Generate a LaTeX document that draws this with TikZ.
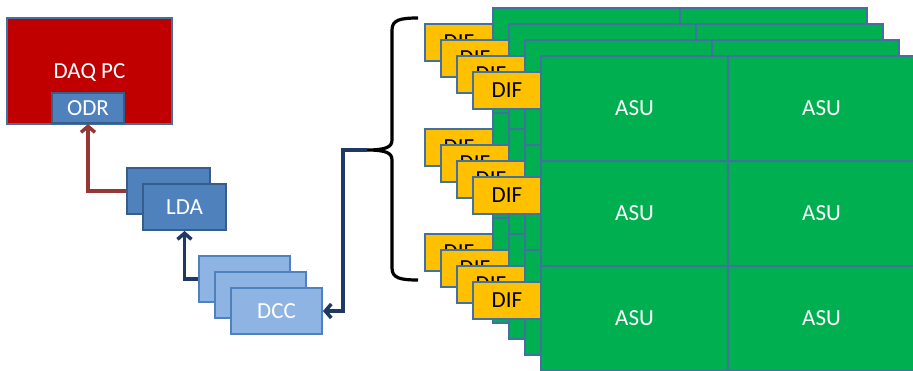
\documentclass[tikz,border=0pt]{standalone}
\usepackage{fontspec}
\setmainfont{Carlito}
\usetikzlibrary{arrows.meta}
\definecolor{daqred}{HTML}{C00000}
\definecolor{edgeblue}{HTML}{41719C}
\definecolor{darkedge}{HTML}{385D8A}
\definecolor{ldablue}{HTML}{4F81BD}
\definecolor{dccblue}{HTML}{8EB4E3}
\definecolor{asugreen}{HTML}{00B050}
\definecolor{difyellow}{HTML}{FFC000}
\definecolor{linkred}{HTML}{953735}
\definecolor{linknavy}{HTML}{1F3864}
\begin{document}
\begin{tikzpicture}[x=1pt,y=-1pt,
  box/.style={rectangle, draw=edgeblue, line width=2pt, inner sep=0pt,
    font=\fontsize{23}{23}\selectfont, text height=14.8pt, text depth=0pt},
  daqbox/.style={box, fill=daqred, text=white, minimum width=165pt, minimum height=106pt},
  odrbox/.style={box, draw=darkedge, fill=ldablue, text=white, minimum width=72pt, minimum height=30pt},
  ldabox/.style={box, draw=darkedge, fill=ldablue, text=white, minimum width=83pt, minimum height=46pt},
  dccbox/.style={box, draw=ldablue, fill=dccblue, text=white, minimum width=91pt, minimum height=46pt},
  cell/.style={box, fill=asugreen, text=white, minimum width=187pt, minimum height=105pt},
  difbox/.style={box, fill=difyellow, text=black, minimum width=68pt, minimum height=37pt},
  link/.style={line width=3.5pt, -{Straight Barb[length=6pt,width=14pt]}},
  bracestyle/.style={line width=3.2pt, black}
]
\useasboundingbox (0,0) rectangle (913,370);
\fill[white] (0,0) rectangle (913,370);

% DAQ PC and ODR
\node[daqbox] (daq) at (89.5,71) {DAQ PC};
\node[odrbox] (odr) at (88,108) {ODR};

% LDA
\node[ldabox] (ldab) at (168,191) {};
\node[ldabox] (lda) at (184.5,207) {LDA};

% DCC
\node[dccbox] (dcc1) at (244.5,279) {};
\node[dccbox] (dcc2) at (260.5,295) {};
\node[dccbox] (dcc3) at (276.5,311) {DCC};

% ASU layers with DIFs
\foreach \k/\lx/\ly in {0/493/8,1/509/24,2/525/40,3/541/56} {
  \foreach \c in {0,1} {
    \foreach \r in {0,1,2} {
      \node[cell] (asu\k-\c-\r) at ({\lx+93.5+187*\c},{\ly+52.5+105*\r}) {\ifnum\k=3 ASU\fi};
    }
  }
  \foreach \r in {0,1,2} {
    \node[difbox] (dif\k-\r) at ({\lx-34},{\ly+34.5+105*\r}) {DIF};
  }
}

% brace
\draw[bracestyle] (418,18) .. controls (400,18) and (392,20) .. (392,30)
  -- (392,140) .. controls (392,147) and (386,150) .. (367,150)
  .. controls (386,150) and (392,153) .. (392,160)
  -- (392,268) .. controls (392,278) and (400,280) .. (418,280);
\coordinate (bractip) at (367,150);
\coordinate (bend) at (343,150);

% connectors
\draw[link, linkred] (ldab.west) -| (odr.south);
\draw[link, linknavy] (dcc1.west) -| (lda.south);
\draw[link, linknavy] (bractip) -- (bend) |- (dcc3.east);
\end{tikzpicture}
\end{document}
